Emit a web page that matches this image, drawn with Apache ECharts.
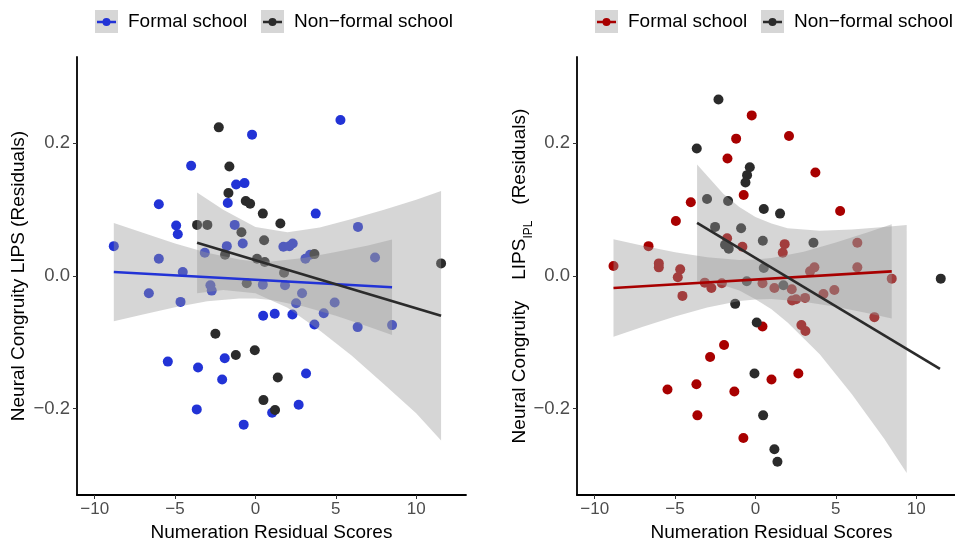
<!DOCTYPE html>
<html>
<head>
<meta charset="utf-8">
<script src="https://cdn.jsdelivr.net/npm/echarts@6/dist/echarts.min.js"></script>
<style>
html,body{margin:0;padding:0;background:#fff;}
#chart{width:955px;height:541px;}
</style>
</head>
<body>
<div id="chart"></div>
<script>
// ---------------- DATA ----------------
const xTicks = [-10, -5, 0, 5, 10];
const yTicks = [-0.2, 0, 0.2];
const groupNames = ['Formal school', 'Non\u2212formal school'];
const xTitle = 'Numeration Residual Scores';

// Left panel (LIPS): Formal school points [x, y]
const leftFormal = [[5.29,0.235],[-0.21,0.213],[-4.0,0.166],[-1.2,0.138],[-0.68,0.140],[-1.72,0.110],[-6.01,0.108],[3.75,0.094],[-4.93,0.076],[-4.83,0.063],[-1.29,0.077],[6.38,0.074],[-8.81,0.045],[-1.78,0.045],[-0.79,0.049],[1.74,0.044],[2.11,0.045],[2.32,0.049],[-3.15,0.035],[3.11,0.026],[3.40,0.032],[-6.01,0.026],[7.44,0.028],[-4.52,0.006],[-2.8,-0.014],[-2.72,-0.022],[0.46,-0.013],[1.84,-0.014],[-6.63,-0.026],[-4.66,-0.039],[2.90,-0.026],[2.53,-0.041],[4.93,-0.040],[0.48,-0.060],[1.2,-0.057],[2.30,-0.058],[4.25,-0.056],[3.67,-0.073],[6.36,-0.077],[8.50,-0.074],[-5.45,-0.129],[-3.57,-0.138],[-1.91,-0.124],[-2.07,-0.156],[3.15,-0.147],[-3.65,-0.201],[2.69,-0.194],[1.04,-0.206],[-0.73,-0.224]];
// Left panel: Non-formal school points
const leftNonFormal = [[-2.28,0.224],[-1.62,0.165],[-1.68,0.125],[-0.60,0.113],[-0.33,0.109],[0.46,0.094],[1.55,0.079],[-3.63,0.077],[-2.99,0.077],[-0.87,0.066],[0.54,0.054],[-1.89,0.032],[3.67,0.033],[0.10,0.026],[0.58,0.021],[1.78,0.005],[11.55,0.019],[-0.54,-0.011],[-2.49,-0.087],[-1.22,-0.119],[-0.04,-0.112],[1.39,-0.153],[0.50,-0.187],[1.22,-0.202]];

// Left fitted lines and confidence bands
const lfFitX = [-8.81, 8.5],  lfFitY = [0.006, -0.017];
const lfBandX  = [-8.81,-7,-5,-3,-1,0,1,3,5,7,8.5];
const lfBandUp = [0.080,0.065,0.049,0.035,0.025,0.022,0.022,0.027,0.036,0.046,0.055];
const lfBandLo = [-0.068,-0.058,-0.047,-0.038,-0.034,-0.034,-0.036,-0.046,-0.060,-0.076,-0.089];
const lnFitX = [-3.63, 11.55], lnFitY = [0.050, -0.060];
const lnBandX  = [-3.63,-2,0,2,4,6,8,10,11.55];
const lnBandUp = [0.126,0.100,0.074,0.066,0.073,0.086,0.100,0.115,0.128];
const lnBandLo = [-0.026,-0.021,-0.026,-0.048,-0.082,-0.120,-0.163,-0.207,-0.248];

// Right panel (LIPS_IPL): Formal school points
const rightFormal = [[-0.23,0.242],[2.09,0.211],[-1.20,0.207],[-1.74,0.177],[3.73,0.156],[-0.73,0.122],[-4.02,0.111],[5.27,0.098],[-4.95,0.083],[-6.65,0.045],[-1.76,0.057],[-0.81,0.044],[1.82,0.048],[1.70,0.035],[6.34,0.050],[-8.83,0.015],[-6.01,0.019],[-6.01,0.013],[-4.68,0.010],[-4.83,-0.002],[6.34,0.013],[3.40,0.007],[3.67,0.013],[8.48,-0.004],[-3.15,-0.010],[-2.74,-0.018],[-2.09,-0.011],[0.44,-0.011],[1.18,-0.018],[2.26,-0.020],[-4.54,-0.030],[2.28,-0.037],[2.53,-0.035],[3.09,-0.033],[4.23,-0.027],[4.91,-0.021],[7.40,-0.062],[2.86,-0.074],[3.11,-0.083],[0.44,-0.076],[-1.95,-0.104],[-2.82,-0.122],[2.67,-0.147],[1.00,-0.156],[-5.47,-0.171],[-3.67,-0.163],[-1.31,-0.174],[-3.61,-0.210],[-0.75,-0.244]];
// Right panel: Non-formal school points
const rightNonFormal = [[-2.30,0.266],[-3.65,0.192],[-0.35,0.164],[-0.52,0.152],[-0.62,0.141],[-3.01,0.116],[-1.70,0.113],[0.52,0.101],[1.53,0.094],[-2.51,0.074],[-0.89,0.072],[0.46,0.053],[3.61,0.050],[-1.89,0.047],[-1.66,0.041],[0.52,0.012],[-0.54,-0.008],[1.74,-0.014],[11.53,-0.004],[-1.26,-0.042],[0.08,-0.070],[-0.06,-0.147],[0.48,-0.210],[1.18,-0.261],[1.37,-0.280]];

// Right fitted lines and confidence bands
const rfFitX = [-8.83, 8.48], rfFitY = [-0.018, 0.007];
const rfBandX  = [-8.83,-7,-5,-3,-1,0,1,3,5,7,8.48];
const rfBandUp = [0.0555,0.0457,0.0359,0.0281,0.0242,0.0247,0.0270,0.0367,0.0503,0.0659,0.0780];
const rfBandLo = [-0.0915,-0.0765,-0.0609,-0.0473,-0.0376,-0.0353,-0.0348,-0.0387,-0.0465,-0.0563,-0.0642];
const rnFitX = [-3.63, 11.48], rnFitY = [0.080, -0.140];
const rnBandX  = [-3.63,-2,-1,0,1,2,4,6,8,9.41];
const rnBandUp = [0.168,0.124,0.104,0.089,0.079,0.072,0.068,0.070,0.074,0.077];
const rnBandLo = [-0.008,-0.014,-0.022,-0.035,-0.050,-0.070,-0.118,-0.178,-0.245,-0.297];

// ---------------- STYLE ----------------
const FONT = "'Liberation Sans', Arial, Helvetica, sans-serif";
const BLUE = '#2233d6', RED = '#a80000', DARK = '#2b2b2b';
const BAND = 'rgba(153,153,153,0.4)';
const minus = s => String(s).replace('-', '\u2212');

function xAxisCfg(gridIndex, max) {
  return {
    type: 'value', gridIndex, min: -11.1, max,
    name: xTitle, nameLocation: 'middle', nameGap: 28, nameMoveOverlap: false,
    nameTextStyle: { fontFamily: FONT, fontSize: 19, color: '#000' },
    axisLine: { show: true, onZero: false, lineStyle: { color: '#000', width: 1.8 } },
    axisTick: { show: true, length: 4, lineStyle: { color: '#333', width: 1 }, customValues: xTicks },
    axisLabel: { fontFamily: FONT, fontSize: 17, color: '#4d4d4d', margin: 6, customValues: xTicks, formatter: v => minus(v) },
    splitLine: { show: false }
  };
}
function yAxisCfg(gridIndex, name, rich, gap) {
  const cfg = {
    type: 'value', gridIndex, min: -0.33, max: 0.33,
    name, nameLocation: 'middle', nameGap: gap, nameRotate: 90, nameMoveOverlap: false,
    nameTextStyle: { fontFamily: FONT, fontSize: 19, color: '#000' },
    axisLine: { show: true, onZero: false, lineStyle: { color: '#000', width: 1.8 } },
    axisTick: { show: true, length: 4, lineStyle: { color: '#333', width: 1 }, customValues: yTicks },
    axisLabel: { fontFamily: FONT, fontSize: 18.5, color: '#4d4d4d', margin: 7, customValues: yTicks, formatter: v => minus(v.toFixed(1)) },
    splitLine: { show: false }
  };
  if (rich) cfg.nameTextStyle.rich = rich;
  return cfg;
}
function scatter(name, data, idx, color) {
  return { type: 'scatter', name, data, xAxisIndex: idx, yAxisIndex: idx,
    symbolSize: 10, itemStyle: { color, opacity: 1 }, silent: true, z: 2 };
}
function band(name, xs, lo, hi, idx) {
  return {
    type: 'custom', name, xAxisIndex: idx, yAxisIndex: idx, silent: true, z: 3,
    data: xs.map((x, i) => [x, lo[i], hi[i]]),
    encode: { x: 0, y: [1, 2] },
    renderItem: (params, api) => {
      if (params.dataIndex !== 0) return null;
      const pts = [];
      for (let i = 0; i < xs.length; i++) pts.push(api.coord([xs[i], hi[i]]));
      for (let i = xs.length - 1; i >= 0; i--) pts.push(api.coord([xs[i], lo[i]]));
      return { type: 'polygon', shape: { points: pts, smooth: 0 }, style: { fill: BAND } };
    }
  };
}
function fit(name, xs, ys, idx, color) {
  return { type: 'line', name, data: xs.map((x, i) => [x, ys[i]]), xAxisIndex: idx, yAxisIndex: idx,
    showSymbol: false, symbol: 'none', lineStyle: { color, width: 2.6 }, itemStyle: { color }, silent: true, z: 3 };
}

const ICON = 'path://M0,3.3 L19,3.3 L19,5.7 L0,5.7 Z M9.5,0.5 A4,4 0 1,1 9.49,0.5 Z';
function legend(name, left, color) {
  return { show: true, left, top: 12, padding: 0, icon: ICON, itemWidth: 19, itemHeight: 8,
    itemGap: 0, selectedMode: false, z: 10,
    textStyle: { fontFamily: FONT, fontSize: 19, color: '#000', lineHeight: 20, padding: [0, 0, 0, 7] },
    data: [{ name, itemStyle: { color } }] };
}
function keyBox(left) {
  return { type: 'rect', left, top: 10, z: 1, shape: { width: 23, height: 23 }, style: { fill: '#d6d6d6' } };
}

const chart = echarts.init(document.getElementById('chart'), null, { renderer: 'canvas' });
chart.setOption({
  animation: false,
  backgroundColor: '#fff',
  grid: [
    { left: 77, top: 57, width: 389, height: 438, containLabel: false, outerBoundsMode: 'none' },
    { left: 577, top: 57, width: 389, height: 438, containLabel: false, outerBoundsMode: 'none' }
  ],
  xAxis: [xAxisCfg(0, 13.1), xAxisCfg(1, 13.1)],
  yAxis: [
    yAxisCfg(0, 'Neural Congruity LIPS (Residuals)', null, 49),
    yAxisCfg(1, '{a|Neural Congruity    LIPS}{s|IPL}{a|   (Residuals)}', {
      a: { fontFamily: FONT, fontSize: 19, color: '#000', lineHeight: 20, verticalAlign: 'top' },
      s: { fontFamily: FONT, fontSize: 12, color: '#000', lineHeight: 12, verticalAlign: 'top', padding: [13, 0, 0, 0] }
    }, 47)
  ],
  legend: [
    legend(groupNames[0], 97, BLUE), legend(groupNames[1], 263, DARK),
    legend(groupNames[0], 597, RED), legend(groupNames[1], 763, DARK)
  ],
  graphic: [keyBox(95), keyBox(261), keyBox(595), keyBox(761)],
  series: [
    scatter(groupNames[0], leftFormal, 0, BLUE),
    scatter(groupNames[1], leftNonFormal, 0, DARK),
    band(groupNames[0], lfBandX, lfBandLo, lfBandUp, 0),
    fit(groupNames[0], lfFitX, lfFitY, 0, BLUE),
    band(groupNames[1], lnBandX, lnBandLo, lnBandUp, 0),
    fit(groupNames[1], lnFitX, lnFitY, 0, DARK),

    scatter(groupNames[0], rightFormal, 1, RED),
    scatter(groupNames[1], rightNonFormal, 1, DARK),
    band(groupNames[0], rfBandX, rfBandLo, rfBandUp, 1),
    fit(groupNames[0], rfFitX, rfFitY, 1, RED),
    band(groupNames[1], rnBandX, rnBandLo, rnBandUp, 1),
    fit(groupNames[1], rnFitX, rnFitY, 1, DARK)
  ]
});
</script>
</body>
</html>
